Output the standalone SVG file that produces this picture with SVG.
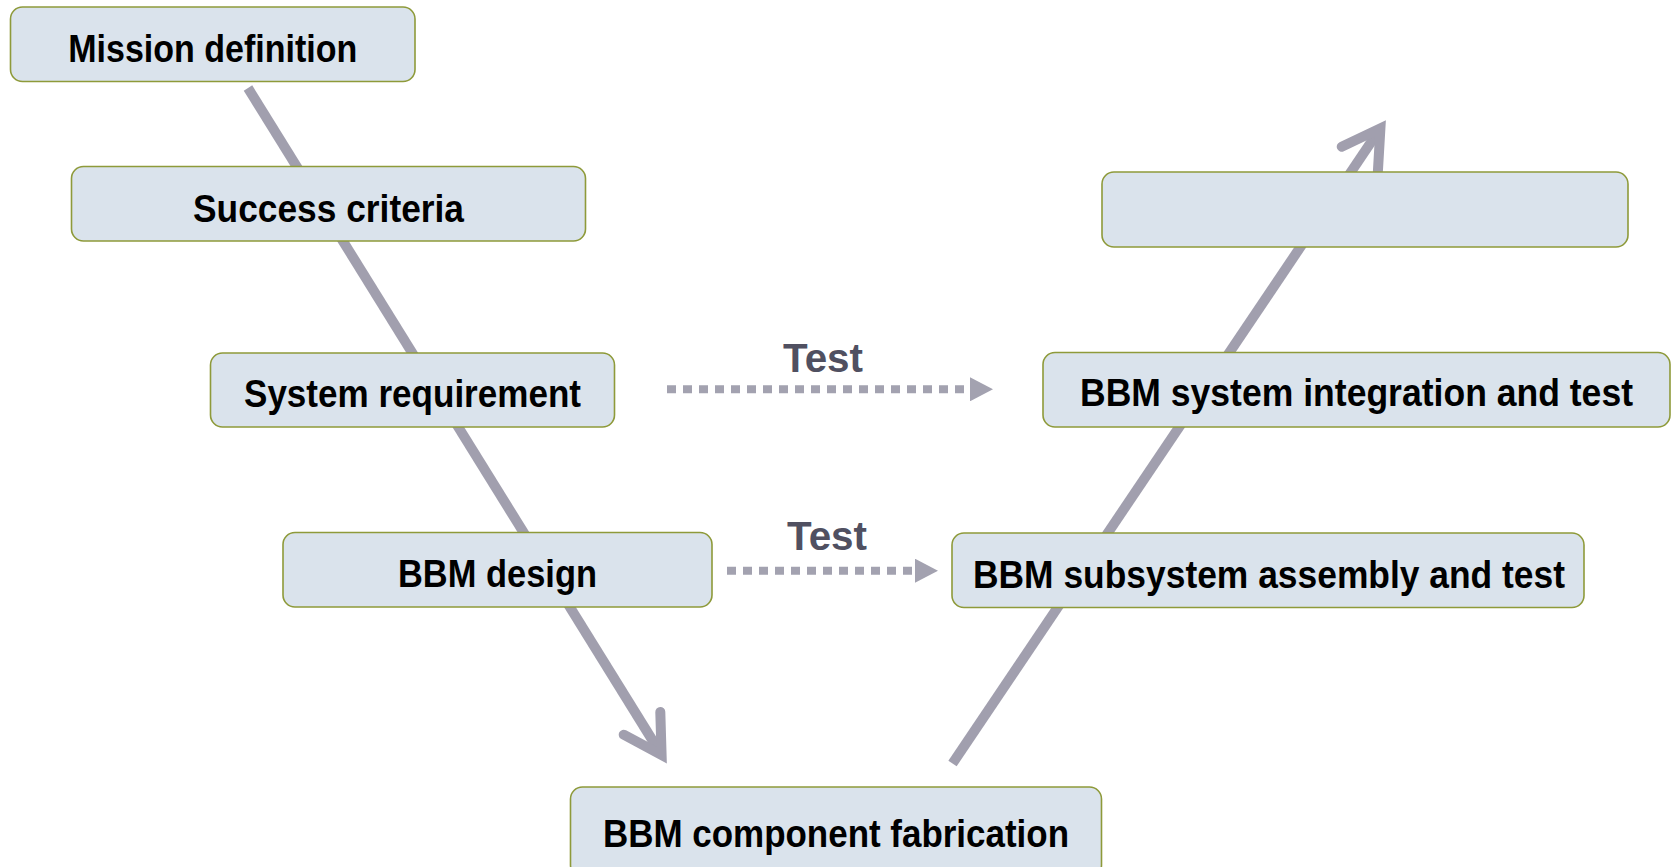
<svg xmlns="http://www.w3.org/2000/svg" width="1673" height="867" viewBox="0 0 1673 867">
  <style>
    .box { fill: #dae3ec; stroke: #8e9a3a; stroke-width: 1.6; }
    .label { font-family: "Liberation Sans", Arial, sans-serif; font-weight: bold; font-size: 39px; fill: #000; text-anchor: middle; }
    .test { font-family: "Liberation Sans", Arial, sans-serif; font-weight: bold; font-size: 40px; fill: #505061; text-anchor: middle; }
    .flow { fill: none; stroke: #a19fae; stroke-width: 10; stroke-linecap: butt; }
    .head { fill: none; stroke: #a19fae; stroke-width: 10; stroke-linecap: round; stroke-linejoin: miter; stroke-miterlimit: 6; }
    .dots { fill: none; stroke: #a3a2b0; stroke-width: 8; stroke-dasharray: 9 7; }
  </style>
  <defs>
    <marker id="tri" viewBox="0 0 23 24" refX="0" refY="12" markerWidth="23" markerHeight="24" markerUnits="userSpaceOnUse" orient="auto">
      <path d="M0 0 L23 12 L0 24 Z" fill="#a3a2b0"/>
    </marker>
  </defs>
  <rect width="1673" height="867" fill="#ffffff"/>

  <!-- V-shaped flow and test links -->
  <g id="connectors">
    <path class="flow" d="M248 88 L661.6 755"/>
    <path class="head" d="M623.7 734.7 L661.6 755 L660.3 712"/>
    <path class="flow" d="M952.5 763.5 L1380.4 128.3"/>
    <path class="head" d="M1341.7 146.7 L1380.4 128.3 L1377.9 171.2"/>
    <path class="dots" d="M667 389.3 H970" marker-end="url(#tri)"/>
    <path class="dots" d="M727 570.7 H915" marker-end="url(#tri)"/>
    <text class="test" x="823" y="371.5" textLength="80" lengthAdjust="spacingAndGlyphs">Test</text>
    <text class="test" x="827" y="550" textLength="80" lengthAdjust="spacingAndGlyphs">Test</text>
  </g>

  <g id="mission-definition">
    <rect class="box" x="10.5" y="7" width="404.5" height="74.5" rx="12"/>
    <text class="label" x="212.75" y="62" textLength="289" lengthAdjust="spacingAndGlyphs">Mission definition</text>
  </g>
  <g id="success-criteria">
    <rect class="box" x="71.5" y="166.5" width="514" height="74.5" rx="12"/>
    <text class="label" x="328.5" y="221.5" textLength="271" lengthAdjust="spacingAndGlyphs">Success criteria</text>
  </g>
  <g id="system-requirement">
    <rect class="box" x="210.5" y="353" width="404" height="74" rx="12"/>
    <text class="label" x="412.5" y="407" textLength="337" lengthAdjust="spacingAndGlyphs">System requirement</text>
  </g>
  <g id="bbm-design">
    <rect class="box" x="283" y="532.5" width="429" height="74.5" rx="12"/>
    <text class="label" x="497.5" y="587" textLength="199" lengthAdjust="spacingAndGlyphs">BBM design</text>
  </g>
  <g id="bbm-component-fabrication">
    <rect class="box" x="570.5" y="787" width="531" height="90" rx="12"/>
    <text class="label" x="836" y="847" textLength="466" lengthAdjust="spacingAndGlyphs">BBM component fabrication</text>
  </g>
  <g id="bbm-subsystem-assembly">
    <rect class="box" x="952" y="533" width="632" height="74.5" rx="12"/>
    <text class="label" x="1269" y="588" textLength="592" lengthAdjust="spacingAndGlyphs">BBM subsystem assembly and test</text>
  </g>
  <g id="bbm-system-integration">
    <rect class="box" x="1043" y="352.5" width="627" height="74.5" rx="12"/>
    <text class="label" x="1356.5" y="406" font-size="37" textLength="553" lengthAdjust="spacingAndGlyphs">BBM system integration and test</text>
  </g>
  <g id="top-stage">
    <rect class="box" x="1102" y="172" width="526" height="75" rx="12"/>
  </g>
</svg>
